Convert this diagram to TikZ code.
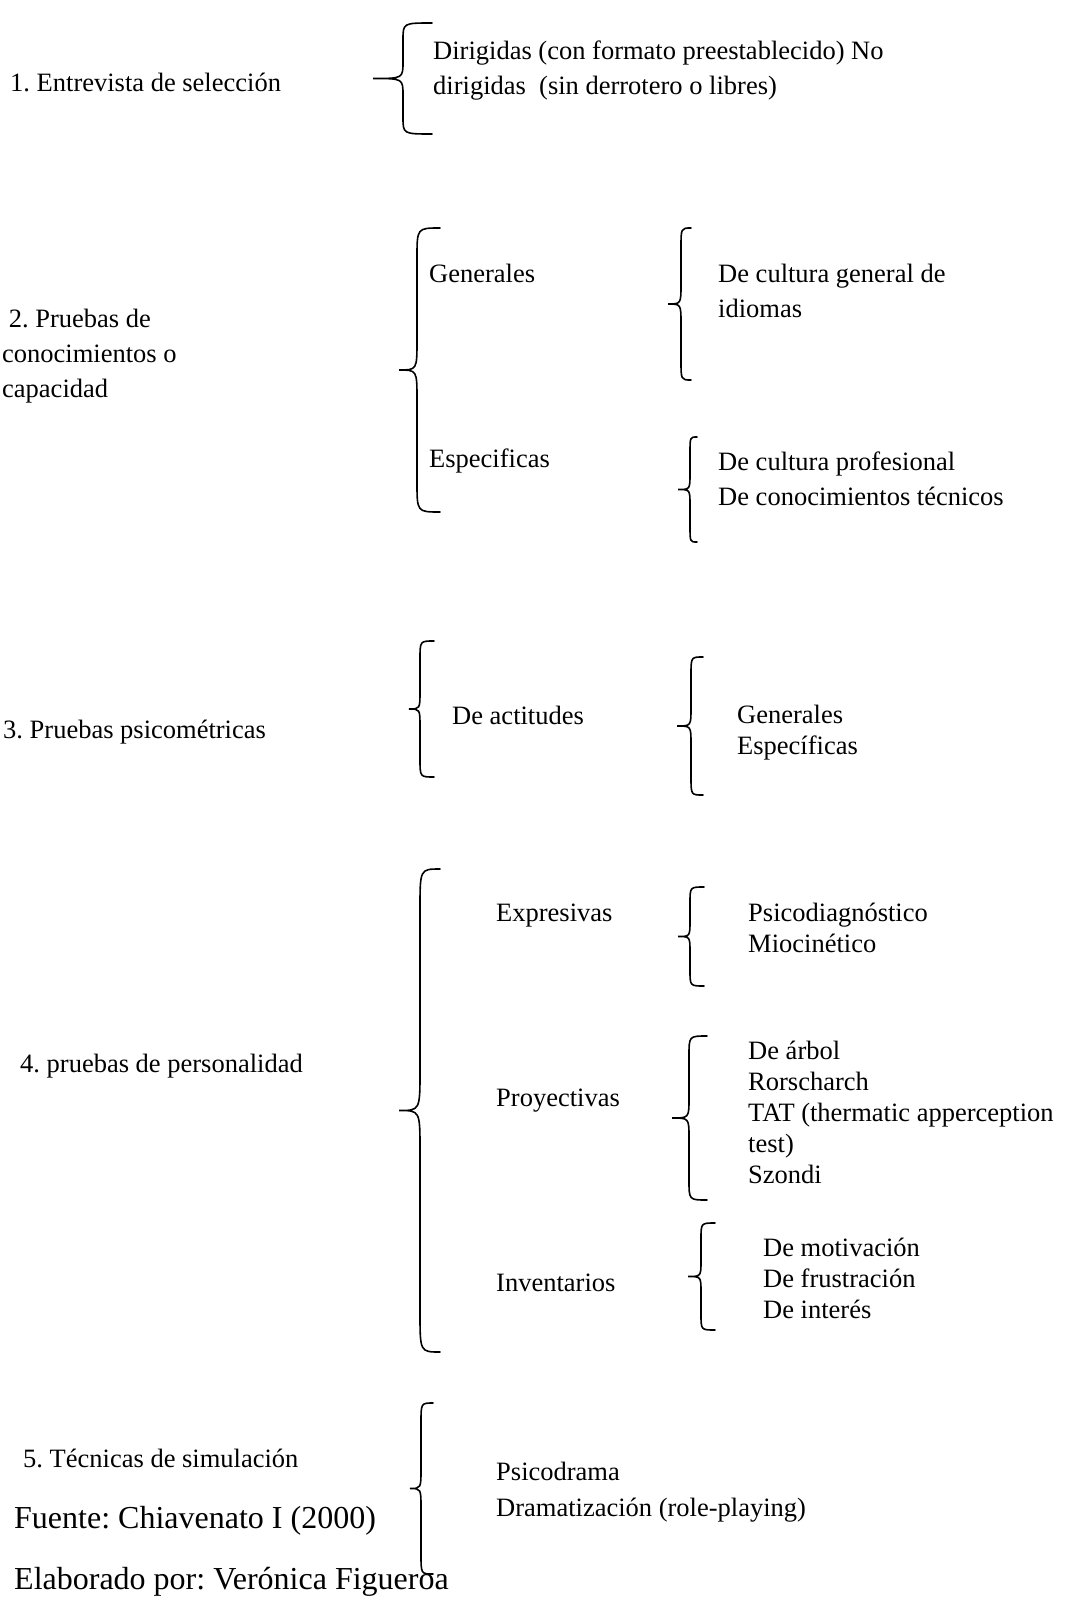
\documentclass[tikz,border=0pt]{standalone}
\usepackage{fontspec}
\setmainfont{Liberation Serif}
\frenchspacing

% llave: punta x, linea x, extremo x, arriba y, abajo y, radio
\newcommand{\llave}[6]{%
  \draw[llave] (#3,#4) .. controls (#2,#4) .. (#2,#4+#6)
    -- (#2,{(#4+#5)/2-#6}) .. controls (#2,{(#4+#5)/2}) .. (#1,{(#4+#5)/2})
    .. controls (#2,{(#4+#5)/2}) .. (#2,{(#4+#5)/2+#6})
    -- (#2,#5-#6) .. controls (#2,#5) .. (#3,#5);}

\begin{document}
\begin{tikzpicture}[
    x=1pt, y=-1pt,
    txt/.style={anchor=base west, inner sep=0pt, align=left, font=\fontsize{26.5}{35}\selectfont},
    apretado/.style={txt, font=\fontsize{26.5}{31}\selectfont},
    fuente/.style={txt, font=\fontsize{32}{38}\selectfont},
    llave/.style={line width=1.6pt, line cap=round},
  ]
  \useasboundingbox (0,0) rectangle (1073,1597);
  % 1. Entrevista (la base de un nodo de varias lineas es la ultima linea)
  \node[txt] (ent) at (10,92) {1. Entrevista de selección};
  \llave{373}{403}{432}{23}{134}{17}
  \node[txt] (dir) at (433,95) {Dirigidas (con formato preestablecido) No\\dirigidas\ \ (sin derrotero o libres)};
  % 2. Pruebas de conocimientos
  \node[txt] (con) at (2,397) {\ 2. Pruebas de\\conocimientos o\\capacidad};
  \llave{399}{417}{440}{228}{512}{30}
  \node[txt] (gen) at (429,282) {Generales};
  \node[txt] (esp) at (429,467) {Especificas};
  \llave{668}{681}{691}{228}{380}{20}
  \node[txt] (cul) at (718,317) {De cultura general de\\idiomas};
  \llave{678}{690}{697}{437}{542}{16}
  \node[txt] (pro) at (718,505) {De cultura profesional\\De conocimientos técnicos};
  % 3. Pruebas psicometricas
  \node[txt] (psi) at (3,738) {3. Pruebas psicométricas};
  \llave{409}{420}{434}{641}{777}{18}
  \node[txt] (act) at (452,724) {De actitudes};
  \llave{677}{691}{703}{657}{795}{18}
  \node[apretado] (ge2) at (737,754) {Generales\\Específicas};
  % 4. Pruebas de personalidad
  \node[txt] (per) at (20,1072) {4. pruebas de personalidad};
  \llave{399}{420}{440}{869}{1352}{40}
  \node[txt] (exp) at (496,921) {Expresivas};
  \llave{678}{690}{704}{887}{986}{16}
  \node[apretado] (mio) at (748,952) {Psicodiagnóstico\\Miocinético};
  \node[txt] (pry) at (496,1106) {Proyectivas};
  \llave{672}{689}{707}{1036}{1200}{20}
  \node[apretado] (arb) at (748,1183) {De árbol\\Rorscharch\\TAT (thermatic apperception\\test)\\Szondi};
  \node[txt] (inv) at (496,1291) {Inventarios};
  \llave{688}{701}{715}{1223}{1330}{16}
  \node[apretado] (mot) at (763,1318) {De motivación\\De frustración\\De interés};
  % 5. Tecnicas de simulacion
  \node[txt] (sim) at (23,1467) {5. Técnicas de simulación};
  \llave{410}{421}{433}{1403}{1574}{20}
  \node[txt, font=\fontsize{26.5}{36}\selectfont] (dra) at (496,1516) {Psicodrama\\Dramatización (role-playing)};
  % Fuente
  \node[fuente] (fue) at (14,1528) {Fuente: Chiavenato I (2000)};
  \node[fuente] (ela) at (14,1589) {Elaborado por: Verónica Figueroa};
\end{tikzpicture}
\end{document}
